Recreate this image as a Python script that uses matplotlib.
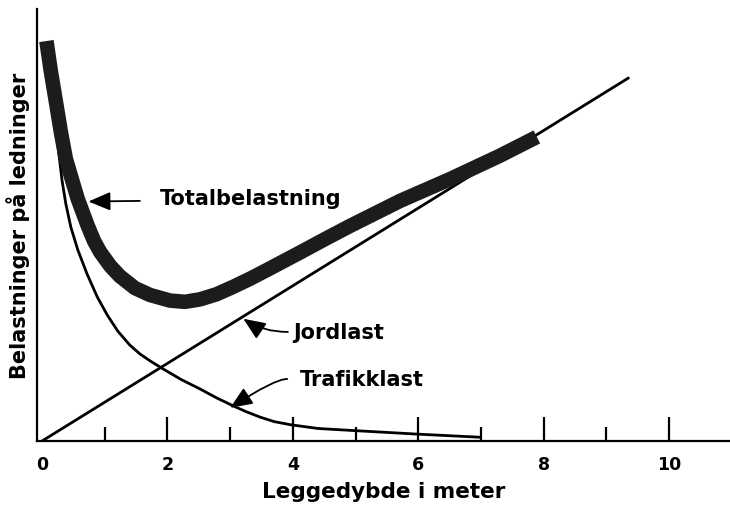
import matplotlib
matplotlib.use("Agg")
import matplotlib.pyplot as plt

# depth in metres and loads (arbitrary units)
jord_x = [0.0, 9.35]
jord_y = [0.0, 5.79]

traf_x = [0.08, 0.16, 0.24, 0.32, 0.38, 0.46, 0.57, 0.72, 0.88, 1.04, 1.21,
          1.40, 1.56, 1.72, 1.93, 2.22, 2.52, 2.78, 3.05, 3.25, 3.48, 3.70,
          3.96, 4.40, 4.91, 5.45, 5.98, 6.99]
traf_y = [6.33, 5.53, 4.82, 4.15, 3.78, 3.41, 3.05, 2.66, 2.30, 2.01, 1.75,
          1.53, 1.39, 1.28, 1.15, 0.98, 0.83, 0.69, 0.56, 0.47, 0.38, 0.31,
          0.26, 0.20, 0.17, 0.14, 0.11, 0.06]

total_x = [0.07, 0.14, 0.22, 0.30, 0.38, 0.48, 0.57, 0.73, 0.83, 0.93, 1.09,
           1.24, 1.48, 1.72, 2.04, 2.28, 2.52, 2.78, 3.05, 3.32, 3.59, 4.12,
           4.51, 4.91, 5.71, 6.51, 7.30, 7.89]
total_y = [6.38, 5.90, 5.42, 4.93, 4.50, 4.16, 3.86, 3.43, 3.19, 3.01, 2.79,
           2.63, 2.44, 2.33, 2.24, 2.22, 2.26, 2.34, 2.46, 2.59, 2.73, 3.01,
           3.22, 3.43, 3.83, 4.18, 4.55, 4.85]

major_ticks = [0, 2, 4, 6, 8, 10]
minor_ticks = [1, 3, 5, 7, 9]

font = dict(family="DejaVu Sans", fontweight="bold")

fig = plt.figure(figsize=(7.3, 5.1), dpi=100)
ax = fig.add_axes([0.0507, 0.1333, 0.9493, 0.847])

ax.plot(jord_x, jord_y, color="black", lw=2.0, solid_capstyle="round", zorder=2)
ax.plot(traf_x, traf_y, color="black", lw=2.0, solid_joinstyle="round", zorder=2)
ax.plot(total_x, total_y, color="#1c1c1c", lw=10.5, solid_capstyle="butt",
        solid_joinstyle="round", zorder=3)

arrow = dict(arrowstyle="-|>,head_length=0.9,head_width=0.38", color="black",
             lw=1.3, mutation_scale=15, shrinkA=0, shrinkB=0)

ax.annotate("", xy=(0.74, 3.82), xytext=(1.56, 3.83), arrowprops=arrow)
ax.text(1.88, 3.87, "Totalbelastning", ha="left", va="center", fontsize=15, **font)

ax.annotate("", xy=(3.21, 1.95), xytext=(3.92, 1.74),
            arrowprops=dict(arrow, connectionstyle="angle3,angleA=0,angleB=146"))
ax.text(4.00, 1.74, "Jordlast", ha="left", va="center", fontsize=15, **font)

ax.annotate("", xy=(3.00, 0.53), xytext=(3.91, 0.99),
            arrowprops=dict(arrow, connectionstyle="angle3,angleA=0,angleB=33"))
ax.text(4.11, 0.99, "Trafikklast", ha="left", va="center", fontsize=15, **font)

ax.set_xlim(-0.08, 10.97)
ax.set_ylim(0, 6.89)

ax.set_xticks(major_ticks)
ax.set_xticklabels([str(t) for t in major_ticks], fontsize=12.5, **font)
ax.set_xticks(minor_ticks, minor=True)
ax.tick_params(axis="x", which="major", direction="in", length=17, width=1.6, pad=10)
ax.tick_params(axis="x", which="minor", direction="in", length=10, width=1.6)
ax.xaxis.get_major_ticks()[0].tick1line.set_visible(False)
ax.set_yticks([])

for side in ["top", "right"]:
    ax.spines[side].set_visible(False)
ax.spines["left"].set_linewidth(1.6)
ax.spines["bottom"].set_linewidth(1.6)

ax.set_xlabel("Leggedybde i meter", fontsize=15.5, labelpad=6, **font)
ax.set_ylabel("Belastninger på ledninger", fontsize=15, labelpad=5, **font)

fig.savefig("out.png", dpi=100)
